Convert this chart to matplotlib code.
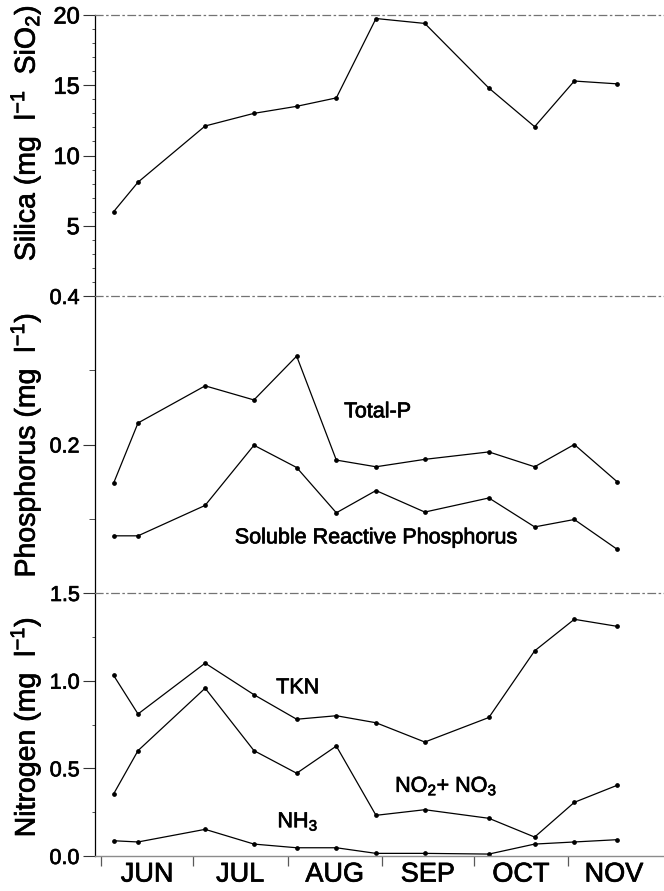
import matplotlib
matplotlib.use('Agg')
import matplotlib.pyplot as plt
import matplotlib.patheffects as pe
from matplotlib.ticker import FixedLocator, FixedFormatter, MultipleLocator, NullFormatter

plt.rcParams['font.family'] = ['Liberation Sans', 'DejaVu Sans']
plt.rcParams['mathtext.fontset'] = 'custom'
plt.rcParams['mathtext.rm'] = 'Liberation Sans'
plt.rcParams['mathtext.it'] = 'Liberation Sans:italic'
plt.rcParams['mathtext.bf'] = 'Liberation Sans:bold'

# ---- data (x = days since 1 June) ----
sample_day = [4, 12, 34, 50, 64, 77, 90, 106, 127, 142, 155, 169]
silica = [6.0, 8.1, 12.1, 13.0, 13.5, 14.1, 19.75, 19.4, 14.8, 12.05, 15.3, 15.1]
total_p = [0.148, 0.229, 0.279, 0.260, 0.319, 0.179, 0.170, 0.180, 0.190, 0.170, 0.200, 0.150]
srp = [0.077, 0.077, 0.118, 0.199, 0.169, 0.108, 0.138, 0.109, 0.128, 0.089, 0.099, 0.059]
tkn = [1.03, 0.81, 1.10, 0.92, 0.78, 0.80, 0.76, 0.65, 0.79, 1.17, 1.35, 1.31]
no2_no3 = [0.354, 0.601, 0.957, 0.601, 0.472, 0.627, 0.232, 0.264, 0.215, 0.108, 0.306, 0.403]
nh3 = [0.087, 0.080, 0.152, 0.068, 0.047, 0.047, 0.015, 0.015, 0.011, 0.068, 0.080, 0.093]

month_names = ['JUN', 'JUL', 'AUG', 'SEP', 'OCT', 'NOV']
month_start = [0, 30, 61, 92, 122, 153]
month_len = [30, 31, 31, 30, 31, 30]
month_mid = [s + n / 2 for s, n in zip(month_start, month_len)]

silica_ticks = [5, 10, 15, 20]
p_ticks = [0.2, 0.4]
n_ticks = [0.0, 0.5, 1.0, 1.5]

W_PX, H_PX = 664, 891
fig = plt.figure(figsize=(W_PX / 100, H_PX / 100), dpi=100)
L = 95 / W_PX
ax1 = fig.add_axes([L, 1 - 296 / H_PX, 1 - L, (296 - 15) / H_PX])
ax2 = fig.add_axes([L, 1 - 593 / H_PX, 1 - L, (593 - 296) / H_PX])
ax3 = fig.add_axes([L, 1 - 856 / H_PX, 1 - L, (856 - 593) / H_PX])

line_kw = dict(color='black', lw=0.9, marker='o', ms=2.4, mfc='black', mec='black')

ax1.plot(sample_day, silica, **line_kw)
ax2.plot(sample_day, total_p, **line_kw)
ax2.plot(sample_day, srp, **line_kw)
ax3.plot(sample_day, tkn, **line_kw)
ax3.plot(sample_day, no2_no3, **line_kw)
ax3.plot(sample_day, nh3, **line_kw)

for ax in (ax1, ax2, ax3):
    ax.set_xlim(-2.1, 184.4)
    ax.spines['right'].set_visible(False)
    ax.spines['bottom'].set_visible(False)
    ax.spines['left'].set_color('black')
    ax.spines['left'].set_linewidth(0.9)
    ax.spines['top'].set_color('0.45')
    ax.spines['top'].set_linewidth(0.9)
    ax.spines['top'].set_linestyle((0, (6, 3, 1, 3)))
    ax.tick_params(axis='y', which='major', direction='out', length=9, width=0.8,
                   pad=2, labelsize=15.5, color='0.2')
    ax.tick_params(axis='y', which='minor', direction='out', length=2.5, width=0.7,
                   color='0.3')
    ax.patch.set_visible(False)

ax3.spines['bottom'].set_visible(True)
ax3.spines['bottom'].set_color('0.55')
ax3.spines['bottom'].set_linewidth(1.0)

# top panel
ax1.set_ylim(0, 20)
ax1.yaxis.set_major_locator(FixedLocator(silica_ticks))
ax1.yaxis.set_major_formatter(FixedFormatter([str(t) for t in silica_ticks]))
ax1.yaxis.set_minor_locator(MultipleLocator(1))
ax1.tick_params(axis='y', which='major', labelsize=17)

# middle panel
ax2.set_ylim(0, 0.4)
ax2.yaxis.set_major_locator(FixedLocator(p_ticks))
ax2.yaxis.set_major_formatter(FixedFormatter([f'{t:.1f}' for t in p_ticks]))
ax2.yaxis.set_minor_locator(FixedLocator([0.1, 0.3]))
ax2.tick_params(axis='y', which='minor', length=4.5)

# bottom panel
ax3.set_ylim(0, 1.5)
ax3.yaxis.set_major_locator(FixedLocator(n_ticks))
ax3.yaxis.set_major_formatter(FixedFormatter([f'{t:.1f}' for t in n_ticks]))
ax3.yaxis.set_minor_locator(MultipleLocator(0.25))

for ax in (ax1, ax2):
    ax.set_xticks([])

ax3.xaxis.set_major_locator(FixedLocator(month_start))
ax3.xaxis.set_major_formatter(NullFormatter())
ax3.xaxis.set_minor_locator(FixedLocator(month_mid))
ax3.xaxis.set_minor_formatter(FixedFormatter(month_names))
ax3.tick_params(axis='x', which='major', direction='out', length=7, width=0.9, color='0.35')
ax3.tick_params(axis='x', which='minor', length=0, pad=4, labelsize=19.5)

# y labels
lab_kw = dict(fontsize=20.5)
ax1.set_ylabel('Silica (mg  l$^{-1}$  SiO$_2$)', **lab_kw)
ax2.set_ylabel('Phosphorus (mg  l$^{-1}$)', **lab_kw)
ax3.set_ylabel('Nitrogen (mg  l$^{-1}$)', **lab_kw)
for ax, yc in ((ax1, 0.58), (ax2, 0.498), (ax3, 0.49)):
    ax.yaxis.label.set_verticalalignment('center')
    ax.yaxis.set_label_coords((26 - 95) / (W_PX - 95), yc)

# series annotations
txt_kw = dict(fontsize=15.5, ha='center', va='baseline')
ax2.text(90.5, 0.2366, 'Total-P', **txt_kw)
ax2.text(89.9, 0.0669, 'Soluble Reactive Phosphorus', **txt_kw)
ax3.text(64.3, 0.928, 'TKN', **txt_kw)
ax3.text(113.0, 0.366, 'NO$_2$+ NO$_3$', **txt_kw)
ax3.text(64.4, 0.164, 'NH$_3$', **txt_kw)

# slightly heavier text, like the printed original
stroke = [pe.withStroke(linewidth=0.5, foreground='black')]
for t in fig.findobj(matplotlib.text.Text):
    t.set_path_effects(stroke)

fig.savefig('out.png', dpi=100)
